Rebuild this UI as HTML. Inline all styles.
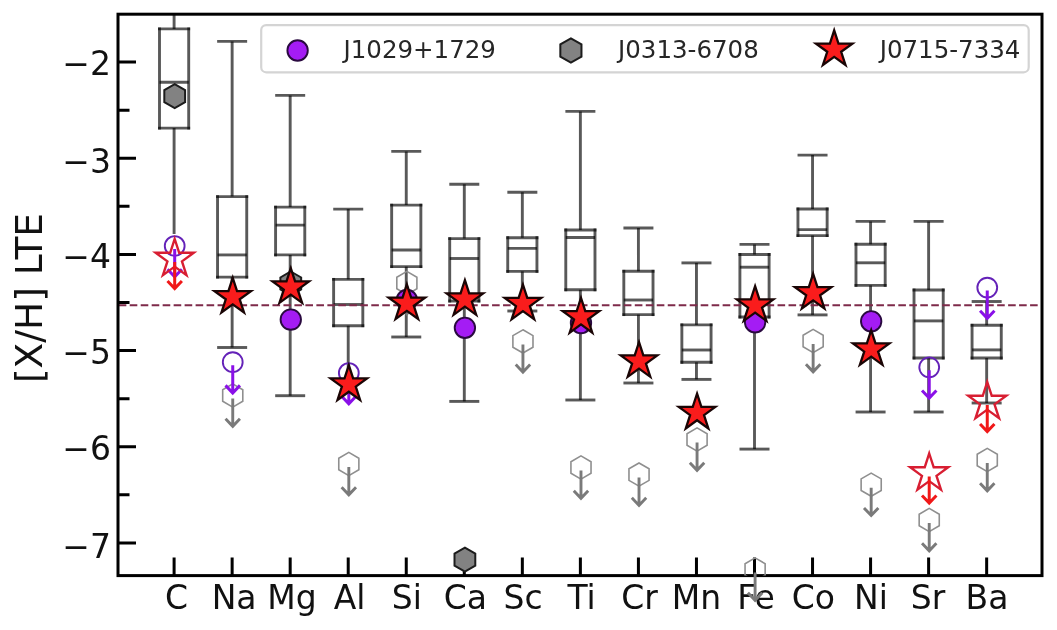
<!DOCTYPE html><html><head><meta charset="utf-8"><title>[X/H] LTE abundances</title><style>html,body{margin:0;padding:0;background:#fff;width:1057px;height:630px;overflow:hidden}</style></head><body><svg width="1057" height="630" viewBox="0 0 1057 630" style="display:block">
<rect width="1057" height="630" fill="#ffffff"/>
<defs><clipPath id="ax"><rect x="118.0" y="14.2" width="924.0" height="561.4"/></clipPath></defs>
<g clip-path="url(#ax)" fill="none" stroke="#000" stroke-opacity="0.65" stroke-width="2.9">
<line x1="174.1" y1="9.2" x2="174.1" y2="28.9"/>
<line x1="174.1" y1="128.1" x2="174.1" y2="234"/>
<line x1="159.5" y1="82.2" x2="188.7" y2="82.2"/>
<line x1="159.5" y1="28.9" x2="188.7" y2="28.9" stroke-linecap="square"/>
<line x1="159.5" y1="128.1" x2="188.7" y2="128.1" stroke-linecap="square"/>
<line x1="159.5" y1="28.9" x2="159.5" y2="128.1" stroke-linecap="square"/>
<line x1="188.7" y1="28.9" x2="188.7" y2="128.1" stroke-linecap="square"/>
<line x1="232.14" y1="41.4" x2="232.14" y2="196.6"/>
<line x1="232.14" y1="277.1" x2="232.14" y2="347.5"/>
<line x1="217.14" y1="41.4" x2="247.14" y2="41.4"/>
<line x1="217.14" y1="347.5" x2="247.14" y2="347.5"/>
<line x1="217.54" y1="254.9" x2="246.74" y2="254.9"/>
<line x1="217.54" y1="196.6" x2="246.74" y2="196.6" stroke-linecap="square"/>
<line x1="217.54" y1="277.1" x2="246.74" y2="277.1" stroke-linecap="square"/>
<line x1="217.54" y1="196.6" x2="217.54" y2="277.1" stroke-linecap="square"/>
<line x1="246.74" y1="196.6" x2="246.74" y2="277.1" stroke-linecap="square"/>
<line x1="290.18" y1="95.4" x2="290.18" y2="207.1"/>
<line x1="290.18" y1="254.9" x2="290.18" y2="395.7"/>
<line x1="275.18" y1="95.4" x2="305.18" y2="95.4"/>
<line x1="275.18" y1="395.7" x2="305.18" y2="395.7"/>
<line x1="275.58" y1="225.1" x2="304.78" y2="225.1"/>
<line x1="275.58" y1="207.1" x2="304.78" y2="207.1" stroke-linecap="square"/>
<line x1="275.58" y1="254.9" x2="304.78" y2="254.9" stroke-linecap="square"/>
<line x1="275.58" y1="207.1" x2="275.58" y2="254.9" stroke-linecap="square"/>
<line x1="304.78" y1="207.1" x2="304.78" y2="254.9" stroke-linecap="square"/>
<line x1="348.22" y1="209.1" x2="348.22" y2="279.4"/>
<line x1="348.22" y1="325.7" x2="348.22" y2="380"/>
<line x1="333.22" y1="209.1" x2="363.22" y2="209.1"/>
<line x1="333.22" y1="380" x2="363.22" y2="380"/>
<line x1="333.62" y1="304.5" x2="362.82" y2="304.5"/>
<line x1="333.62" y1="279.4" x2="362.82" y2="279.4" stroke-linecap="square"/>
<line x1="333.62" y1="325.7" x2="362.82" y2="325.7" stroke-linecap="square"/>
<line x1="333.62" y1="279.4" x2="333.62" y2="325.7" stroke-linecap="square"/>
<line x1="362.82" y1="279.4" x2="362.82" y2="325.7" stroke-linecap="square"/>
<line x1="406.26" y1="151.4" x2="406.26" y2="205.1"/>
<line x1="406.26" y1="266.6" x2="406.26" y2="337"/>
<line x1="391.26" y1="151.4" x2="421.26" y2="151.4"/>
<line x1="391.26" y1="337" x2="421.26" y2="337"/>
<line x1="391.66" y1="250" x2="420.86" y2="250"/>
<line x1="391.66" y1="205.1" x2="420.86" y2="205.1" stroke-linecap="square"/>
<line x1="391.66" y1="266.6" x2="420.86" y2="266.6" stroke-linecap="square"/>
<line x1="391.66" y1="205.1" x2="391.66" y2="266.6" stroke-linecap="square"/>
<line x1="420.86" y1="205.1" x2="420.86" y2="266.6" stroke-linecap="square"/>
<line x1="464.3" y1="184.3" x2="464.3" y2="238.6"/>
<line x1="464.3" y1="301" x2="464.3" y2="401.4"/>
<line x1="449.3" y1="184.3" x2="479.3" y2="184.3"/>
<line x1="449.3" y1="401.4" x2="479.3" y2="401.4"/>
<line x1="449.7" y1="258.5" x2="478.9" y2="258.5"/>
<line x1="449.7" y1="238.6" x2="478.9" y2="238.6" stroke-linecap="square"/>
<line x1="449.7" y1="301" x2="478.9" y2="301" stroke-linecap="square"/>
<line x1="449.7" y1="238.6" x2="449.7" y2="301" stroke-linecap="square"/>
<line x1="478.9" y1="238.6" x2="478.9" y2="301" stroke-linecap="square"/>
<line x1="522.34" y1="192.3" x2="522.34" y2="237.8"/>
<line x1="522.34" y1="271.4" x2="522.34" y2="311"/>
<line x1="507.34" y1="192.3" x2="537.34" y2="192.3"/>
<line x1="507.34" y1="311" x2="537.34" y2="311"/>
<line x1="507.74" y1="248.4" x2="536.94" y2="248.4"/>
<line x1="507.74" y1="237.8" x2="536.94" y2="237.8" stroke-linecap="square"/>
<line x1="507.74" y1="271.4" x2="536.94" y2="271.4" stroke-linecap="square"/>
<line x1="507.74" y1="237.8" x2="507.74" y2="271.4" stroke-linecap="square"/>
<line x1="536.94" y1="237.8" x2="536.94" y2="271.4" stroke-linecap="square"/>
<line x1="580.38" y1="111.4" x2="580.38" y2="230"/>
<line x1="580.38" y1="289.8" x2="580.38" y2="400"/>
<line x1="565.38" y1="111.4" x2="595.38" y2="111.4"/>
<line x1="565.38" y1="400" x2="595.38" y2="400"/>
<line x1="565.78" y1="237.5" x2="594.98" y2="237.5"/>
<line x1="565.78" y1="230" x2="594.98" y2="230" stroke-linecap="square"/>
<line x1="565.78" y1="289.8" x2="594.98" y2="289.8" stroke-linecap="square"/>
<line x1="565.78" y1="230" x2="565.78" y2="289.8" stroke-linecap="square"/>
<line x1="594.98" y1="230" x2="594.98" y2="289.8" stroke-linecap="square"/>
<line x1="638.42" y1="228" x2="638.42" y2="271.3"/>
<line x1="638.42" y1="314.6" x2="638.42" y2="383"/>
<line x1="623.42" y1="228" x2="653.42" y2="228"/>
<line x1="623.42" y1="383" x2="653.42" y2="383"/>
<line x1="623.82" y1="300" x2="653.02" y2="300"/>
<line x1="623.82" y1="271.3" x2="653.02" y2="271.3" stroke-linecap="square"/>
<line x1="623.82" y1="314.6" x2="653.02" y2="314.6" stroke-linecap="square"/>
<line x1="623.82" y1="271.3" x2="623.82" y2="314.6" stroke-linecap="square"/>
<line x1="653.02" y1="271.3" x2="653.02" y2="314.6" stroke-linecap="square"/>
<line x1="696.46" y1="262.9" x2="696.46" y2="324.9"/>
<line x1="696.46" y1="362.3" x2="696.46" y2="379.4"/>
<line x1="681.46" y1="262.9" x2="711.46" y2="262.9"/>
<line x1="681.46" y1="379.4" x2="711.46" y2="379.4"/>
<line x1="681.86" y1="350" x2="711.06" y2="350"/>
<line x1="681.86" y1="324.9" x2="711.06" y2="324.9" stroke-linecap="square"/>
<line x1="681.86" y1="362.3" x2="711.06" y2="362.3" stroke-linecap="square"/>
<line x1="681.86" y1="324.9" x2="681.86" y2="362.3" stroke-linecap="square"/>
<line x1="711.06" y1="324.9" x2="711.06" y2="362.3" stroke-linecap="square"/>
<line x1="754.5" y1="244.4" x2="754.5" y2="254.5"/>
<line x1="754.5" y1="317" x2="754.5" y2="449.1"/>
<line x1="739.5" y1="244.4" x2="769.5" y2="244.4"/>
<line x1="739.5" y1="449.1" x2="769.5" y2="449.1"/>
<line x1="739.9" y1="267.2" x2="769.1" y2="267.2"/>
<line x1="739.9" y1="254.5" x2="769.1" y2="254.5" stroke-linecap="square"/>
<line x1="739.9" y1="317" x2="769.1" y2="317" stroke-linecap="square"/>
<line x1="739.9" y1="254.5" x2="739.9" y2="317" stroke-linecap="square"/>
<line x1="769.1" y1="254.5" x2="769.1" y2="317" stroke-linecap="square"/>
<line x1="812.54" y1="155.1" x2="812.54" y2="209"/>
<line x1="812.54" y1="235.6" x2="812.54" y2="314.9"/>
<line x1="797.54" y1="155.1" x2="827.54" y2="155.1"/>
<line x1="797.54" y1="314.9" x2="827.54" y2="314.9"/>
<line x1="797.94" y1="229.6" x2="827.14" y2="229.6"/>
<line x1="797.94" y1="209" x2="827.14" y2="209" stroke-linecap="square"/>
<line x1="797.94" y1="235.6" x2="827.14" y2="235.6" stroke-linecap="square"/>
<line x1="797.94" y1="209" x2="797.94" y2="235.6" stroke-linecap="square"/>
<line x1="827.14" y1="209" x2="827.14" y2="235.6" stroke-linecap="square"/>
<line x1="870.58" y1="221.4" x2="870.58" y2="244.3"/>
<line x1="870.58" y1="285.4" x2="870.58" y2="412"/>
<line x1="855.58" y1="221.4" x2="885.58" y2="221.4"/>
<line x1="855.58" y1="412" x2="885.58" y2="412"/>
<line x1="855.98" y1="262.8" x2="885.18" y2="262.8"/>
<line x1="855.98" y1="244.3" x2="885.18" y2="244.3" stroke-linecap="square"/>
<line x1="855.98" y1="285.4" x2="885.18" y2="285.4" stroke-linecap="square"/>
<line x1="855.98" y1="244.3" x2="855.98" y2="285.4" stroke-linecap="square"/>
<line x1="885.18" y1="244.3" x2="885.18" y2="285.4" stroke-linecap="square"/>
<line x1="928.62" y1="221.4" x2="928.62" y2="290"/>
<line x1="928.62" y1="358" x2="928.62" y2="412"/>
<line x1="913.62" y1="221.4" x2="943.62" y2="221.4"/>
<line x1="913.62" y1="412" x2="943.62" y2="412"/>
<line x1="914.02" y1="320.9" x2="943.22" y2="320.9"/>
<line x1="914.02" y1="290" x2="943.22" y2="290" stroke-linecap="square"/>
<line x1="914.02" y1="358" x2="943.22" y2="358" stroke-linecap="square"/>
<line x1="914.02" y1="290" x2="914.02" y2="358" stroke-linecap="square"/>
<line x1="943.22" y1="290" x2="943.22" y2="358" stroke-linecap="square"/>
<line x1="986.66" y1="301.5" x2="986.66" y2="325.3"/>
<line x1="986.66" y1="358" x2="986.66" y2="403"/>
<line x1="971.66" y1="301.5" x2="1001.66" y2="301.5"/>
<line x1="971.66" y1="403" x2="1001.66" y2="403"/>
<line x1="972.06" y1="349.9" x2="1001.26" y2="349.9"/>
<line x1="972.06" y1="325.3" x2="1001.26" y2="325.3" stroke-linecap="square"/>
<line x1="972.06" y1="358" x2="1001.26" y2="358" stroke-linecap="square"/>
<line x1="972.06" y1="325.3" x2="972.06" y2="358" stroke-linecap="square"/>
<line x1="1001.26" y1="325.3" x2="1001.26" y2="358" stroke-linecap="square"/>
</g>
<line x1="118.0" y1="305.3" x2="1042.0" y2="305.3" stroke="#7e2a4a" stroke-width="1.95" stroke-dasharray="7.6 3.38" stroke-dashoffset="-0.74" clip-path="url(#ax)"/>
<rect x="118.0" y="14.2" width="924.0" height="561.4" fill="none" stroke="#000" stroke-width="3"/>
<path d="M118,62.1H136M118,158.26H136M118,254.42H136M118,350.58H136M118,446.74H136M118,542.9H136M118,110.18H129.5M118,206.34H129.5M118,302.5H129.5M118,398.66H129.5M118,494.82H129.5M174.1,575.6V557.6M232.14,575.6V557.6M290.18,575.6V557.6M348.22,575.6V557.6M406.26,575.6V557.6M464.3,575.6V557.6M522.34,575.6V557.6M580.38,575.6V557.6M638.42,575.6V557.6M696.46,575.6V557.6M754.5,575.6V557.6M812.54,575.6V557.6M870.58,575.6V557.6M928.62,575.6V557.6M986.66,575.6V557.6" stroke="#000" stroke-width="3" fill="none"/>
<g font-family="DejaVu Sans, Liberation Sans, sans-serif" fill="#111">
<text x="111" y="75" font-size="33" text-anchor="end">−2</text>
<text x="111" y="172.61" font-size="33" text-anchor="end">−3</text>
<text x="111" y="268.07" font-size="33" text-anchor="end">−4</text>
<text x="111" y="364.33" font-size="33" text-anchor="end">−5</text>
<text x="111" y="459.89" font-size="33" text-anchor="end">−6</text>
<text x="111" y="557.65" font-size="33" text-anchor="end">−7</text>
<text x="176.6" y="609" font-size="33" text-anchor="middle">C</text>
<text x="234.14" y="609" font-size="33" text-anchor="middle">Na</text>
<text x="291.88" y="609" font-size="33" text-anchor="middle">Mg</text>
<text x="349.52" y="609" font-size="33" text-anchor="middle">Al</text>
<text x="406.76" y="609" font-size="33" text-anchor="middle">Si</text>
<text x="465.3" y="609" font-size="33" text-anchor="middle">Ca</text>
<text x="523.04" y="609" font-size="33" text-anchor="middle">Sc</text>
<text x="581.58" y="609" font-size="33" text-anchor="middle">Ti</text>
<text x="639.52" y="609" font-size="33" text-anchor="middle">Cr</text>
<text x="696.56" y="609" font-size="33" text-anchor="middle">Mn</text>
<text x="756" y="609" font-size="33" text-anchor="middle">Fe</text>
<text x="813.34" y="609" font-size="33" text-anchor="middle">Co</text>
<text x="870.98" y="609" font-size="33" text-anchor="middle">Ni</text>
<text x="928.12" y="609" font-size="33" text-anchor="middle">Sr</text>
<text x="987.06" y="609" font-size="33" text-anchor="middle">Ba</text>
<text transform="translate(41.5,298) rotate(-90)" font-size="37.5" text-anchor="middle">[X/H] LTE</text>
</g>
<polygon points="232.74,383.9 242.79,389.7 242.79,401.3 232.74,407.1 222.69,401.3 222.69,389.7" fill="none" stroke="#8f8f8f" stroke-width="1.6" clip-path="url(#ax)"/>
<path d="M232.74,398.5V426.3M225.54,418.7L232.74,426.3L239.94,418.7" fill="none" stroke="#7a7a7a" stroke-width="2.9" stroke-linejoin="miter" stroke-linecap="butt"/>
<polygon points="348.82,452.4 358.87,458.2 358.87,469.8 348.82,475.6 338.77,469.8 338.77,458.2" fill="none" stroke="#8f8f8f" stroke-width="1.6" clip-path="url(#ax)"/>
<path d="M348.82,467V494.8M341.62,487.2L348.82,494.8L356.02,487.2" fill="none" stroke="#7a7a7a" stroke-width="2.9" stroke-linejoin="miter" stroke-linecap="butt"/>
<polygon points="406.86,271.4 416.91,277.2 416.91,288.8 406.86,294.6 396.81,288.8 396.81,277.2" fill="none" stroke="#8f8f8f" stroke-width="1.6" clip-path="url(#ax)"/>
<path d="M406.86,286V313.8M399.66,306.2L406.86,313.8L414.06,306.2" fill="none" stroke="#7a7a7a" stroke-width="2.9" stroke-linejoin="miter" stroke-linecap="butt"/>
<polygon points="522.94,329.8 532.99,335.6 532.99,347.2 522.94,353 512.89,347.2 512.89,335.6" fill="none" stroke="#8f8f8f" stroke-width="1.6" clip-path="url(#ax)"/>
<path d="M522.94,344.4V372.2M515.74,364.6L522.94,372.2L530.14,364.6" fill="none" stroke="#7a7a7a" stroke-width="2.9" stroke-linejoin="miter" stroke-linecap="butt"/>
<polygon points="580.98,455.9 591.03,461.7 591.03,473.3 580.98,479.1 570.93,473.3 570.93,461.7" fill="none" stroke="#8f8f8f" stroke-width="1.6" clip-path="url(#ax)"/>
<path d="M580.98,470.5V498.3M573.78,490.7L580.98,498.3L588.18,490.7" fill="none" stroke="#7a7a7a" stroke-width="2.9" stroke-linejoin="miter" stroke-linecap="butt"/>
<polygon points="639.02,463 649.07,468.8 649.07,480.4 639.02,486.2 628.97,480.4 628.97,468.8" fill="none" stroke="#8f8f8f" stroke-width="1.6" clip-path="url(#ax)"/>
<path d="M639.02,477.6V505.4M631.82,497.8L639.02,505.4L646.22,497.8" fill="none" stroke="#7a7a7a" stroke-width="2.9" stroke-linejoin="miter" stroke-linecap="butt"/>
<polygon points="697.06,427.9 707.11,433.7 707.11,445.3 697.06,451.1 687.01,445.3 687.01,433.7" fill="none" stroke="#8f8f8f" stroke-width="1.6" clip-path="url(#ax)"/>
<path d="M697.06,442.5V470.3M689.86,462.7L697.06,470.3L704.26,462.7" fill="none" stroke="#7a7a7a" stroke-width="2.9" stroke-linejoin="miter" stroke-linecap="butt"/>
<polygon points="755.1,557.9 765.15,563.7 765.15,575.3 755.1,581.1 745.05,575.3 745.05,563.7" fill="none" stroke="#8f8f8f" stroke-width="1.6" clip-path="url(#ax)"/>
<path d="M755.1,572.5V600.3M747.9,592.7L755.1,600.3L762.3,592.7" fill="none" stroke="#7a7a7a" stroke-width="2.9" stroke-linejoin="miter" stroke-linecap="butt"/>
<polygon points="813.14,329.4 823.19,335.2 823.19,346.8 813.14,352.6 803.09,346.8 803.09,335.2" fill="none" stroke="#8f8f8f" stroke-width="1.6" clip-path="url(#ax)"/>
<path d="M813.14,344V371.8M805.94,364.2L813.14,371.8L820.34,364.2" fill="none" stroke="#7a7a7a" stroke-width="2.9" stroke-linejoin="miter" stroke-linecap="butt"/>
<polygon points="871.18,473.1 881.23,478.9 881.23,490.5 871.18,496.3 861.13,490.5 861.13,478.9" fill="none" stroke="#8f8f8f" stroke-width="1.6" clip-path="url(#ax)"/>
<path d="M871.18,487.7V515.5M863.98,507.9L871.18,515.5L878.38,507.9" fill="none" stroke="#7a7a7a" stroke-width="2.9" stroke-linejoin="miter" stroke-linecap="butt"/>
<polygon points="929.22,508.4 939.27,514.2 939.27,525.8 929.22,531.6 919.17,525.8 919.17,514.2" fill="none" stroke="#8f8f8f" stroke-width="1.6" clip-path="url(#ax)"/>
<path d="M929.22,523V550.8M922.02,543.2L929.22,550.8L936.42,543.2" fill="none" stroke="#7a7a7a" stroke-width="2.9" stroke-linejoin="miter" stroke-linecap="butt"/>
<polygon points="987.26,448.4 997.31,454.2 997.31,465.8 987.26,471.6 977.21,465.8 977.21,454.2" fill="none" stroke="#8f8f8f" stroke-width="1.6" clip-path="url(#ax)"/>
<path d="M987.26,463V490.8M980.06,483.2L987.26,490.8L994.46,483.2" fill="none" stroke="#7a7a7a" stroke-width="2.9" stroke-linejoin="miter" stroke-linecap="butt"/>
<polygon points="174.7,84.1 185.09,90.1 185.09,102.1 174.7,108.1 164.31,102.1 164.31,90.1" fill="#828282" stroke="#1c1c1c" stroke-width="2.0" clip-path="url(#ax)"/>
<polygon points="290.78,271.5 301.17,277.5 301.17,289.5 290.78,295.5 280.39,289.5 280.39,277.5" fill="#828282" stroke="#1c1c1c" stroke-width="2.0" clip-path="url(#ax)"/>
<polygon points="464.9,547.6 475.29,553.6 475.29,565.6 464.9,571.6 454.51,565.6 454.51,553.6" fill="#828282" stroke="#1c1c1c" stroke-width="2.0" clip-path="url(#ax)"/>
<circle cx="174.7" cy="246" r="9.9" fill="none" stroke="#6422b8" stroke-width="1.9"/>
<path d="M174.7,249V276.8M167.5,269.2L174.7,276.8L181.9,269.2" fill="none" stroke="#8a10e8" stroke-width="3.0" stroke-linejoin="miter" stroke-linecap="butt"/>
<circle cx="232.74" cy="362.2" r="9.9" fill="none" stroke="#6422b8" stroke-width="1.9"/>
<path d="M232.74,365.2V393M225.54,385.4L232.74,393L239.94,385.4" fill="none" stroke="#8a10e8" stroke-width="3.0" stroke-linejoin="miter" stroke-linecap="butt"/>
<circle cx="348.82" cy="373" r="9.9" fill="none" stroke="#6422b8" stroke-width="1.9"/>
<path d="M348.82,376V403.8M341.62,396.2L348.82,403.8L356.02,396.2" fill="none" stroke="#8a10e8" stroke-width="3.0" stroke-linejoin="miter" stroke-linecap="butt"/>
<circle cx="929.22" cy="367.3" r="9.9" fill="none" stroke="#6422b8" stroke-width="1.9"/>
<path d="M929.22,370.3V398.1M922.02,390.5L929.22,398.1L936.42,390.5" fill="none" stroke="#8a10e8" stroke-width="3.0" stroke-linejoin="miter" stroke-linecap="butt"/>
<circle cx="987.26" cy="287.6" r="9.9" fill="none" stroke="#6422b8" stroke-width="1.9"/>
<path d="M987.26,290.6V318.4M980.06,310.8L987.26,318.4L994.46,310.8" fill="none" stroke="#8a10e8" stroke-width="3.0" stroke-linejoin="miter" stroke-linecap="butt"/>
<circle cx="290.78" cy="319.6" r="10.2" fill="#a41cf4" stroke="#2a0a40" stroke-width="1.9"/>
<circle cx="406.86" cy="300" r="10.2" fill="#a41cf4" stroke="#2a0a40" stroke-width="1.9"/>
<circle cx="464.9" cy="327.8" r="10.2" fill="#a41cf4" stroke="#2a0a40" stroke-width="1.9"/>
<circle cx="580.98" cy="323" r="10.2" fill="#a41cf4" stroke="#2a0a40" stroke-width="1.9"/>
<circle cx="755.1" cy="322.3" r="10.2" fill="#a41cf4" stroke="#2a0a40" stroke-width="1.9"/>
<circle cx="871.18" cy="321.3" r="10.2" fill="#a41cf4" stroke="#2a0a40" stroke-width="1.9"/>
<polygon points="174.7,239 179.19,252.82 193.72,252.82 181.97,261.36 186.46,275.18 174.7,266.64 162.94,275.18 167.43,261.36 155.68,252.82 170.21,252.82" fill="none" stroke="#d81e32" stroke-width="2.4"/>
<path d="M174.7,262V288.6M167.5,281L174.7,288.6L181.9,281" fill="none" stroke="#f01818" stroke-width="3.0" stroke-linejoin="miter" stroke-linecap="butt"/>
<polygon points="929.22,453.5 933.71,467.32 948.24,467.32 936.49,475.86 940.98,489.68 929.22,481.14 917.46,489.68 921.95,475.86 910.2,467.32 924.73,467.32" fill="none" stroke="#d81e32" stroke-width="2.4"/>
<path d="M929.22,476.5V503.1M922.02,495.5L929.22,503.1L936.42,495.5" fill="none" stroke="#f01818" stroke-width="3.0" stroke-linejoin="miter" stroke-linecap="butt"/>
<polygon points="987.26,382 991.75,395.82 1006.28,395.82 994.53,404.36 999.02,418.18 987.26,409.64 975.5,418.18 979.99,404.36 968.24,395.82 982.77,395.82" fill="none" stroke="#d81e32" stroke-width="2.4"/>
<path d="M987.26,405V431.6M980.06,424L987.26,431.6L994.46,424" fill="none" stroke="#f01818" stroke-width="3.0" stroke-linejoin="miter" stroke-linecap="butt"/>
<polygon points="232.74,277.8 237.05,291.07 251,291.07 239.71,299.27 244.03,312.53 232.74,304.33 221.45,312.53 225.77,299.27 214.48,291.07 228.43,291.07" fill="#fa1c1c" stroke="#1a0505" stroke-width="2.3"/>
<polygon points="290.78,268.1 295.09,281.37 309.04,281.37 297.75,289.57 302.07,302.83 290.78,294.63 279.49,302.83 283.81,289.57 272.52,281.37 286.47,281.37" fill="#fa1c1c" stroke="#1a0505" stroke-width="2.3"/>
<polygon points="348.82,365.2 353.13,378.47 367.08,378.47 355.79,386.67 360.11,399.93 348.82,391.73 337.53,399.93 341.85,386.67 330.56,378.47 344.51,378.47" fill="#fa1c1c" stroke="#1a0505" stroke-width="2.3"/>
<polygon points="406.86,284.3 411.17,297.57 425.12,297.57 413.83,305.77 418.15,319.03 406.86,310.83 395.57,319.03 399.89,305.77 388.6,297.57 402.55,297.57" fill="#fa1c1c" stroke="#1a0505" stroke-width="2.3"/>
<polygon points="464.9,280.1 469.21,293.37 483.16,293.37 471.87,301.57 476.19,314.83 464.9,306.63 453.61,314.83 457.93,301.57 446.64,293.37 460.59,293.37" fill="#fa1c1c" stroke="#1a0505" stroke-width="2.3"/>
<polygon points="522.94,284.6 527.25,297.87 541.2,297.87 529.91,306.07 534.23,319.33 522.94,311.13 511.65,319.33 515.97,306.07 504.68,297.87 518.63,297.87" fill="#fa1c1c" stroke="#1a0505" stroke-width="2.3"/>
<polygon points="580.98,297.9 585.29,311.17 599.24,311.17 587.95,319.37 592.27,332.63 580.98,324.43 569.69,332.63 574.01,319.37 562.72,311.17 576.67,311.17" fill="#fa1c1c" stroke="#1a0505" stroke-width="2.3"/>
<polygon points="639.02,342.1 643.33,355.37 657.28,355.37 645.99,363.57 650.31,376.83 639.02,368.63 627.73,376.83 632.05,363.57 620.76,355.37 634.71,355.37" fill="#fa1c1c" stroke="#1a0505" stroke-width="2.3"/>
<polygon points="697.06,393.7 701.37,406.97 715.32,406.97 704.03,415.17 708.35,428.43 697.06,420.23 685.77,428.43 690.09,415.17 678.8,406.97 692.75,406.97" fill="#fa1c1c" stroke="#1a0505" stroke-width="2.3"/>
<polygon points="755.1,286.1 759.41,299.37 773.36,299.37 762.07,307.57 766.39,320.83 755.1,312.63 743.81,320.83 748.13,307.57 736.84,299.37 750.79,299.37" fill="#fa1c1c" stroke="#1a0505" stroke-width="2.3"/>
<polygon points="813.14,273.8 817.45,287.07 831.4,287.07 820.11,295.27 824.43,308.53 813.14,300.33 801.85,308.53 806.17,295.27 794.88,287.07 808.83,287.07" fill="#fa1c1c" stroke="#1a0505" stroke-width="2.3"/>
<polygon points="871.18,330.1 875.49,343.37 889.44,343.37 878.15,351.57 882.47,364.83 871.18,356.63 859.89,364.83 864.21,351.57 852.92,343.37 866.87,343.37" fill="#fa1c1c" stroke="#1a0505" stroke-width="2.3"/>
<rect x="261.2" y="25.1" width="767.5" height="47.2" rx="5" ry="5" fill="#ffffff" fill-opacity="0.85" stroke="#d4d4d4" stroke-width="2.2"/>
<circle cx="297.6" cy="50.5" r="10.2" fill="#a41cf4" stroke="#2a0a40" stroke-width="1.9"/>
<polygon points="570.9,38.3 581.47,44.4 581.47,56.6 570.9,62.7 560.33,56.6 560.33,44.4" fill="#828282" stroke="#1c1c1c" stroke-width="2.0"/>
<polygon points="834.2,30.3 838.51,43.57 852.46,43.57 841.17,51.77 845.49,65.03 834.2,56.83 822.91,65.03 827.23,51.77 815.94,43.57 829.89,43.57" fill="#fa1c1c" stroke="#1a0505" stroke-width="2.3"/>
<g font-family="DejaVu Sans, Liberation Sans, sans-serif" font-size="24.5" fill="#262626">
<text x="343.5" y="57.7">J1029+1729</text>
<text x="618" y="57.7">J0313-6708</text>
<text x="879.7" y="57.7">J0715-7334</text>
</g>
</svg></body></html>
